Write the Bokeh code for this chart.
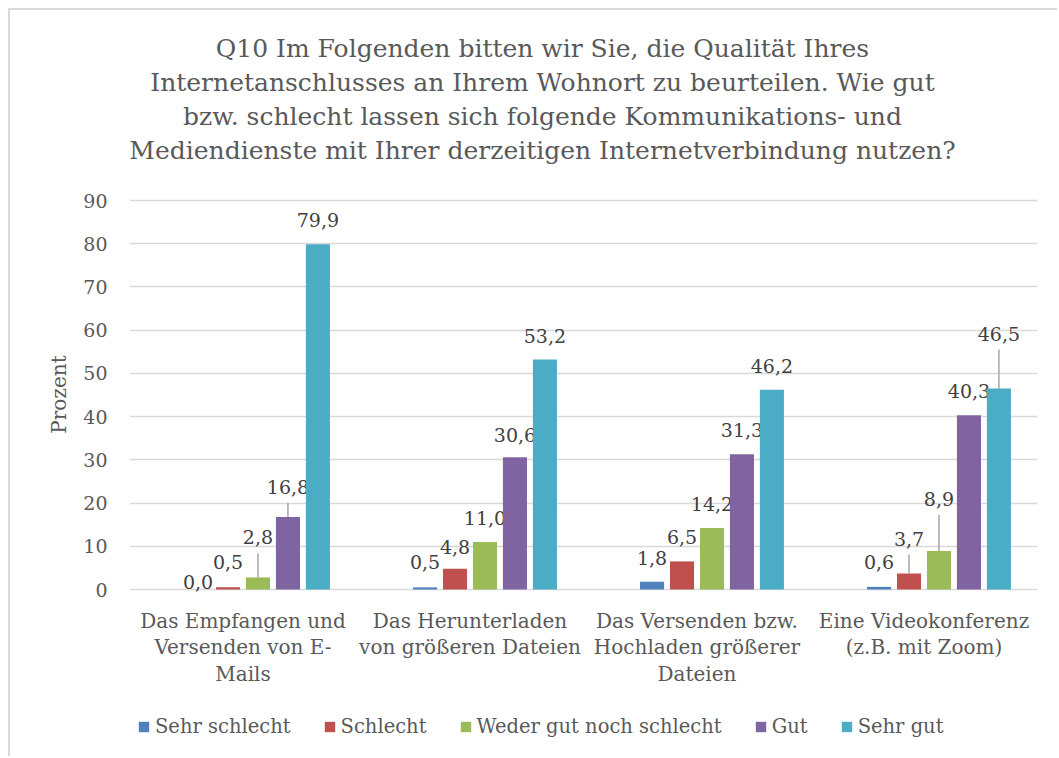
from bokeh.plotting import figure
from bokeh.models import (ColumnDataSource, FactorRange, Range1d, Legend, LegendItem,
                          FixedTicker)
from bokeh.transform import dodge
from bokeh.core.properties import value
from bokeh.embed import file_html
from bokeh.resources import INLINE

# ---------------- data ----------------
categories = [
    "Das Empfangen und\nVersenden von E-\nMails",
    "Das Herunterladen\nvon größeren Dateien",
    "Das Versenden bzw.\nHochladen größerer\nDateien",
    "Eine Videokonferenz\n(z.B. mit Zoom)",
]
series_names = ["Sehr schlecht", "Schlecht", "Weder gut noch schlecht", "Gut", "Sehr gut"]
sehr_schlecht = [0.0, 0.5, 1.8, 0.6]
schlecht = [0.5, 4.8, 6.5, 3.7]
weder = [2.8, 11.0, 14.2, 8.9]
gut = [16.8, 30.6, 31.3, 40.3]
sehr_gut = [79.9, 53.2, 46.2, 46.5]
y_ticks = [0, 10, 20, 30, 40, 50, 60, 70, 80, 90]
title_lines = [
    "Q10 Im Folgenden bitten wir Sie, die Qualität Ihres",
    "Internetanschlusses an Ihrem Wohnort zu beurteilen. Wie gut",
    "bzw. schlecht lassen sich folgende Kommunikations- und",
    "Mediendienste mit Ihrer derzeitigen Internetverbindung nutzen?",
]
y_label = "Prozent"

# ---------------- styles / layout ----------------
series_values = [sehr_schlecht, schlecht, weder, gut, sehr_gut]
colors = ["#4F81BD", "#C0504D", "#9BBB59", "#8064A2", "#4BACC6"]
offsets = [-0.198, -0.066, 0.066, 0.198, 0.330]
bar_w = 0.106
# data label lift above bar top (px), per series per category
label_lift = [
    [8, 25, 24, 25],
    [25, 22, 24, 35],
    [40, 24, 24, 52],
    [30, 22, 24, 24],
    [24, 24, 24, 55],
]
FONT = "DejaVu Serif"
TXT = "#595959"
GRID = "#d9d9d9"

W, H = 1049, 748            # canvas (placed at page x=10, y=10)
ML, MR, MT, MB = 119, 22, 20, 0
Y0_PX, Y90_PX = 579, 190    # canvas y of value 0 and value 90
ymax = 90
ppu = (Y0_PX - Y90_PX) / ymax
y_start = -(H - MB - Y0_PX) / ppu
y_end = ymax + (Y90_PX - MT) / ppu
title_y_px = [38, 72, 106, 140]          # canvas y of title line centres
title_dx = 72.5                          # px right of 2nd category centre

p = figure(x_range=FactorRange(factors=categories), y_range=Range1d(y_start, y_end),
           width=W, height=H, output_backend="svg", toolbar_location=None,
           min_border_left=ML, min_border_right=MR, min_border_top=MT,
           min_border_bottom=MB, outline_line_color=None)
p.styles = {"border-left": "2px solid #d9d9d9", "border-top": "2px solid #d9d9d9",
            "position": "relative", "left": "8px", "top": "8px"}

items = []
for i, (name, vals) in enumerate(zip(series_names, series_values)):
    labels = [f"{v:.1f}".replace(".", ",") for v in vals]
    src = ColumnDataSource(dict(cat=categories, val=vals, lab=labels,
                                lift=[-l for l in label_lift[i]]))
    r = p.vbar(x=dodge("cat", offsets[i], range=p.x_range), top="val", width=bar_w,
               source=src, fill_color=colors[i], line_color=None)
    items.append(LegendItem(label=name, renderers=[r]))
    # leader lines
    lx, ly0, ly1 = [], [], []
    for c, v, l in zip(categories, vals, label_lift[i]):
        if l > 28:
            lx.append(c)
            ly0.append(v)
            ly1.append(v + (l - 16) / ppu)
    if lx:
        lsrc = ColumnDataSource(dict(cat=lx, y0=ly0, y1=ly1))
        p.segment(x0=dodge("cat", offsets[i], range=p.x_range), y0="y0",
                  x1=dodge("cat", offsets[i], range=p.x_range), y1="y1",
                  source=lsrc, line_color="#a6a6a6", line_width=1.5)
    p.text(x=dodge("cat", offsets[i], range=p.x_range), y="val", text="lab",
           source=src, y_offset="lift", text_align="center", text_baseline="middle",
           text_font=value(FONT), text_font_size="19px", text_color="#404040")

# category labels (below the zero line)
cat_src = ColumnDataSource(dict(cat=categories, y=[0] * len(categories)))
p.text(x="cat", y="y", text="cat", source=cat_src, y_offset=19,
       text_align="center", text_baseline="top", text_line_height=1.12,
       text_font=value(FONT), text_font_size="20px", text_color=TXT)

# title lines
t_src = ColumnDataSource(dict(x=[categories[1]] * len(title_lines),
                              y=[(Y0_PX - ty) / ppu for ty in title_y_px],
                              t=title_lines))
p.text(x="x", y="y", text="t", source=t_src, x_offset=title_dx,
       text_align="center", text_baseline="middle",
       text_font=value(FONT), text_font_size="25px", text_color=TXT)

# axes
p.xaxis.visible = False
p.yaxis.ticker = FixedTicker(ticks=y_ticks)
p.yaxis.axis_label = y_label
p.yaxis.axis_label_text_font = FONT
p.yaxis.axis_label_text_font_size = "20px"
p.yaxis.axis_label_text_font_style = "normal"
p.yaxis.axis_label_text_color = TXT
p.yaxis.axis_label_standoff = 9
p.yaxis.major_label_text_font = FONT
p.yaxis.major_label_text_font_size = "19px"
p.yaxis.major_label_text_color = TXT
p.yaxis.major_label_standoff = 16
p.yaxis.axis_line_color = None
p.yaxis.major_tick_line_color = None
p.yaxis.minor_tick_line_color = None

p.xgrid.grid_line_color = None
p.ygrid.ticker = FixedTicker(ticks=y_ticks)
p.ygrid.grid_line_color = GRID
p.ygrid.grid_line_width = 1.5

legend = Legend(items=items, orientation="horizontal", location=(8, 20),
                label_text_font=FONT, label_text_font_size="19.5px", label_text_color=TXT,
                glyph_width=13, glyph_height=13, label_standoff=5, spacing=32,
                padding=0, margin=0, border_line_color=None, background_fill_alpha=0)
p.add_layout(legend, "center")

open("out.html", "w").write(file_html(p, INLINE))
